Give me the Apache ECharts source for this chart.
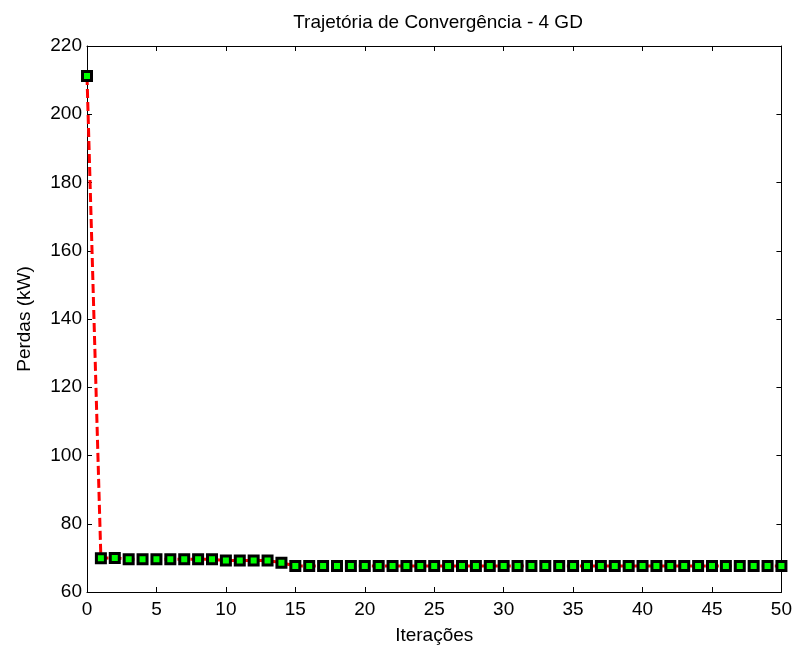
<!DOCTYPE html>
<html>
<head>
<meta charset="utf-8">
<script src="https://cdn.jsdelivr.net/npm/echarts@6/dist/echarts.min.js"></script>
<style>
  html, body { margin: 0; padding: 0; background: #fff; }
  #chart { width: 795px; height: 650px; }
</style>
</head>
<body>
<div id="chart"></div>
<script>
// iterations 0..50
const iteracoes = [
  0, 1, 2, 3, 4, 5, 6, 7, 8, 9, 10, 11, 12, 13, 14, 15, 16, 17, 18, 19, 20,
  21, 22, 23, 24, 25, 26, 27, 28, 29, 30, 31, 32, 33, 34, 35, 36, 37, 38, 39, 40,
  41, 42, 43, 44, 45, 46, 47, 48, 49, 50
];
// losses in kW
const perdas = [
  211.2, 69.9, 70.0, 69.6, 69.6, 69.6, 69.6, 69.6, 69.6, 69.6, 69.2,
  69.2, 69.2, 69.2, 68.6, 67.6, 67.6, 67.6, 67.6, 67.6, 67.6,
  67.6, 67.6, 67.6, 67.6, 67.6, 67.6, 67.6, 67.6, 67.6, 67.6,
  67.6, 67.6, 67.6, 67.6, 67.6, 67.6, 67.6, 67.6, 67.6, 67.6,
  67.6, 67.6, 67.6, 67.6, 67.6, 67.6, 67.6, 67.6, 67.6, 67.6
];
const xTicks = { min: 0, max: 50, interval: 5 };
const yTicks = { min: 60, max: 220, interval: 20 };

const font = 'Arial, "Liberation Sans", sans-serif';
const fs = 19;
const chart = echarts.init(document.getElementById('chart'), null, { renderer: 'canvas' });

const lineCol = '#000';
function axisBase(extra) {
  return Object.assign({
    type: 'value',
    axisLine: { show: true, onZero: false, lineStyle: { color: lineCol, width: 1 } },
    axisTick: { show: true, inside: true, length: 5, lineStyle: { color: lineCol } },
    splitLine: { show: false },
    axisLabel: { color: '#000', fontFamily: font, fontSize: fs }
  }, extra);
}

const option = {
  animation: false,
  backgroundColor: '#fff',
  title: {
    text: 'Trajetória de Convergência - 4 GD',
    left: 433,
    top: 8,
    textAlign: 'center',
    textStyle: { color: '#000', fontFamily: font, fontSize: fs, fontWeight: 'normal' }
  },
  grid: { left: 87, right: 12, top: 46, bottom: 57 },
  xAxis: [
    axisBase({
      position: 'bottom', min: xTicks.min, max: xTicks.max, interval: xTicks.interval,
      name: 'Iterações', nameLocation: 'middle', nameGap: 34,
      nameTextStyle: { color: '#000', fontFamily: font, fontSize: fs },
      axisLabel: { color: '#000', fontFamily: font, fontSize: fs, margin: 8 }
    }),
    axisBase({
      position: 'top', min: xTicks.min, max: xTicks.max, interval: xTicks.interval,
      axisLabel: { show: false }
    })
  ],
  yAxis: [
    axisBase({
      position: 'left', min: yTicks.min, max: yTicks.max, interval: yTicks.interval,
      name: 'Perdas (kW)', nameLocation: 'middle', nameGap: 53,
      nameTextStyle: { color: '#000', fontFamily: font, fontSize: fs },
      axisLabel: { color: '#000', fontFamily: font, fontSize: fs, margin: 5 }
    }),
    axisBase({
      position: 'right', min: yTicks.min, max: yTicks.max, interval: yTicks.interval,
      axisLabel: { show: false }
    })
  ],
  series: [{
    type: 'line',
    data: iteracoes.map((x, i) => [x, perdas[i]]),
    lineStyle: { color: '#ff0000', width: 3, type: [9, 4] },
    symbol: 'rect',
    symbolSize: 9,
    itemStyle: { color: '#00ff00', borderColor: '#000', borderWidth: 3 },
    clip: false,
    z: 3
  }]
};
chart.setOption(option);
</script>
</body>
</html>
